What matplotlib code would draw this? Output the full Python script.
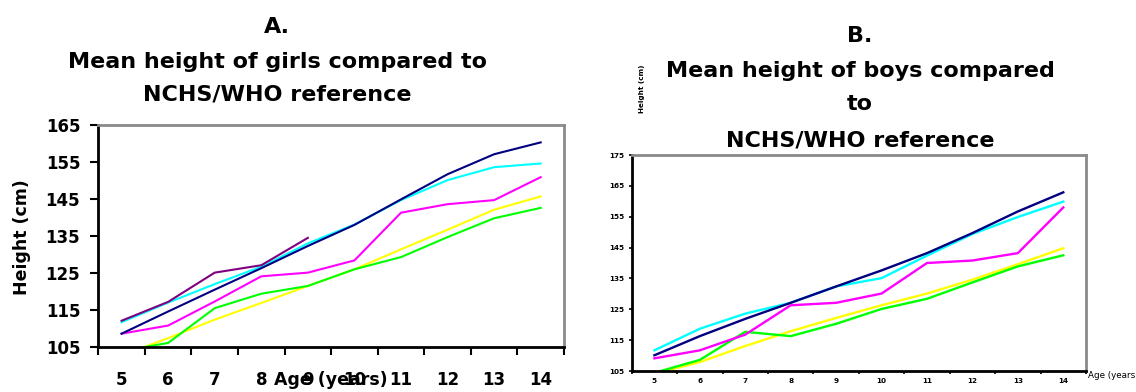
import matplotlib
matplotlib.use("Agg")
import matplotlib.pyplot as plt
import numpy as np

# ---- data ----
ages = [5, 6, 7, 8, 9, 10, 11, 12, 13, 14]

girls_navy = [108.6, 114.6, 120.5, 126.3, 132.3, 138.0, 144.9, 151.7, 157.1, 160.3]
girls_cyan = [111.7, 117.0, 122.0, 126.7, 133.0, 138.1, 144.7, 150.1, 153.6, 154.6]
girls_purple_ages = [5, 6, 7, 8, 9]
girls_purple = [112.1, 117.2, 125.1, 127.1, 134.5]
girls_magenta = [108.6, 110.8, 117.3, 124.1, 125.1, 128.4, 141.3, 143.6, 144.7, 150.9]
girls_yellow = [102.7, 107.4, 112.4, 116.9, 121.5, 126.0, 131.4, 136.7, 142.1, 145.7]
girls_green = [103.9, 106.1, 115.5, 119.4, 121.5, 126.0, 129.3, 134.7, 139.8, 142.6]

boys_navy = [110.1, 116.3, 121.9, 127.1, 132.4, 137.6, 143.2, 149.7, 156.7, 162.9]
boys_cyan = [111.7, 118.7, 123.6, 127.1, 132.4, 135.1, 142.4, 149.4, 154.9, 159.9]
boys_magenta = [109.1, 111.7, 116.8, 126.3, 127.1, 130.1, 140.0, 140.8, 143.2, 158.0]
boys_green = [104.4, 108.6, 117.7, 116.3, 120.3, 125.1, 128.4, 133.7, 138.9, 142.5]
boys_yellow = [104.1, 107.9, 113.1, 117.9, 122.2, 126.3, 130.1, 134.6, 139.6, 144.8]

girls_yticks = [105, 115, 125, 135, 145, 155, 165]
boys_yticks = [105, 115, 125, 135, 145, 155, 165, 175]

NAVY, CYAN, PURPLE, MAGENTA, YELLOW, GREEN = "#000080", "#00FFFF", "#800080", "#FF00FF", "#FFFF00", "#00FF00"

plt.rcParams['font.family'] = ['DejaVu Sans']

W, H = 1136, 392
fig = plt.figure(figsize=(W / 100, H / 100), dpi=100)


def px_axes(l, t, r, b):
    return fig.add_axes([l / W, 1 - b / H, (r - l) / W, (b - t) / H])


def pos(a_list):
    return [ages.index(a) for a in a_list]


def style_axes(ax, ymin, ymax, yticks, lw_sp, tick_len, tick_w, fs, ypad, xpad, bold=True):
    n = len(ages)
    ax.set_xlim(-0.5, n - 0.5)
    ax.set_ylim(ymin, ymax)
    for s in ("left", "bottom"):
        ax.spines[s].set_color("black")
        ax.spines[s].set_linewidth(lw_sp)
    for s in ("top", "right"):
        ax.spines[s].set_color("#8a8a8a")
        ax.spines[s].set_linewidth(lw_sp)
    ax.set_yticks(yticks)
    ax.set_yticklabels([str(v) for v in yticks], fontsize=fs,
                       fontweight="bold" if bold else "normal")
    ax.tick_params(axis="y", direction="out", length=tick_len, width=tick_w, pad=ypad)
    ax.set_xticks(np.arange(-0.5, n, 1.0))
    ax.set_xticklabels([])
    ax.tick_params(axis="x", which="major", direction="out", length=tick_len, width=tick_w)
    ax.set_xticks(np.arange(n), minor=True)
    ax.set_xticklabels([str(a) for a in ages], minor=True, fontsize=fs,
                       fontweight="bold" if bold else "normal")
    ax.tick_params(axis="x", which="minor", length=0, pad=xpad)


# ---------------- Panel A ----------------
axA = px_axes(98.3, 125, 564, 347)
lwA = 1.5
x = np.arange(len(ages))
axA.plot(x, girls_yellow, color=YELLOW, lw=lwA)
axA.plot(x, girls_green, color=GREEN, lw=lwA)
axA.plot(x, girls_magenta, color=MAGENTA, lw=lwA)
axA.plot(x, girls_cyan, color=CYAN, lw=lwA)
axA.plot(x, girls_navy, color=NAVY, lw=lwA)
axA.plot(pos(girls_purple_ages), girls_purple, color=PURPLE, lw=lwA)
style_axes(axA, 105, 165, girls_yticks, 2.0, 6, 1.5, 12, 7, 17)
axA.set_ylabel("Height (cm)", fontsize=12.5, fontweight="bold")
axA.yaxis.set_label_coords(-0.164, 0.495)
axA.yaxis.label.set_va("center")
axA.set_xlabel("Age (years)", fontsize=12.5, fontweight="bold")
axA.xaxis.set_label_coords(0.5, (347 - 380) / 222)
axA.xaxis.label.set_va("center")

tA = 277 / W
fig.text(tA, 1 - 33.3 / H, "A.", ha="center", va="baseline", fontsize=16, fontweight="bold")
fig.text(tA, 1 - 68.3 / H, "Mean height of girls compared to", ha="center", va="baseline",
         fontsize=16, fontweight="bold")
fig.text(tA, 1 - 100 / H, "NCHS/WHO reference", ha="center", va="baseline",
         fontsize=16, fontweight="bold")

# ---------------- Panel B ----------------
axB = px_axes(631.7, 155, 1086, 371)
lwB = 1.7
axB.plot(x, boys_yellow, color=YELLOW, lw=lwB)
axB.plot(x, boys_green, color=GREEN, lw=lwB)
axB.plot(x, boys_magenta, color=MAGENTA, lw=lwB)
axB.plot(x, boys_cyan, color=CYAN, lw=lwB)
axB.plot(x, boys_navy, color=NAVY, lw=lwB)
style_axes(axB, 105, 175, boys_yticks, 2.0, 2.5, 1.2, 5.2, 3, 5)
axB.set_ylabel("Height (cm)", fontsize=5.2, fontweight="bold")
axB.yaxis.set_label_coords(0.0227, 1.305)
axB.yaxis.label.set_va("center")
axB.set_xlabel("Age (years)", fontsize=6.3)
axB.xaxis.set_label_coords(1.004, -0.023)
axB.xaxis.label.set_ha("left")
axB.xaxis.label.set_va("center")

tB = 860 / W
fig.text(tB, 1 - 42 / H, "B.", ha="center", va="baseline", fontsize=16, fontweight="bold")
fig.text(tB, 1 - 76.7 / H, "Mean height of boys compared", ha="center", va="baseline",
         fontsize=16, fontweight="bold")
fig.text(tB, 1 - 110 / H, "to", ha="center", va="baseline", fontsize=16, fontweight="bold")
fig.text(tB, 1 - 146.7 / H, "NCHS/WHO reference", ha="center", va="baseline",
         fontsize=16, fontweight="bold")

fig.savefig("out.png", dpi=100)
